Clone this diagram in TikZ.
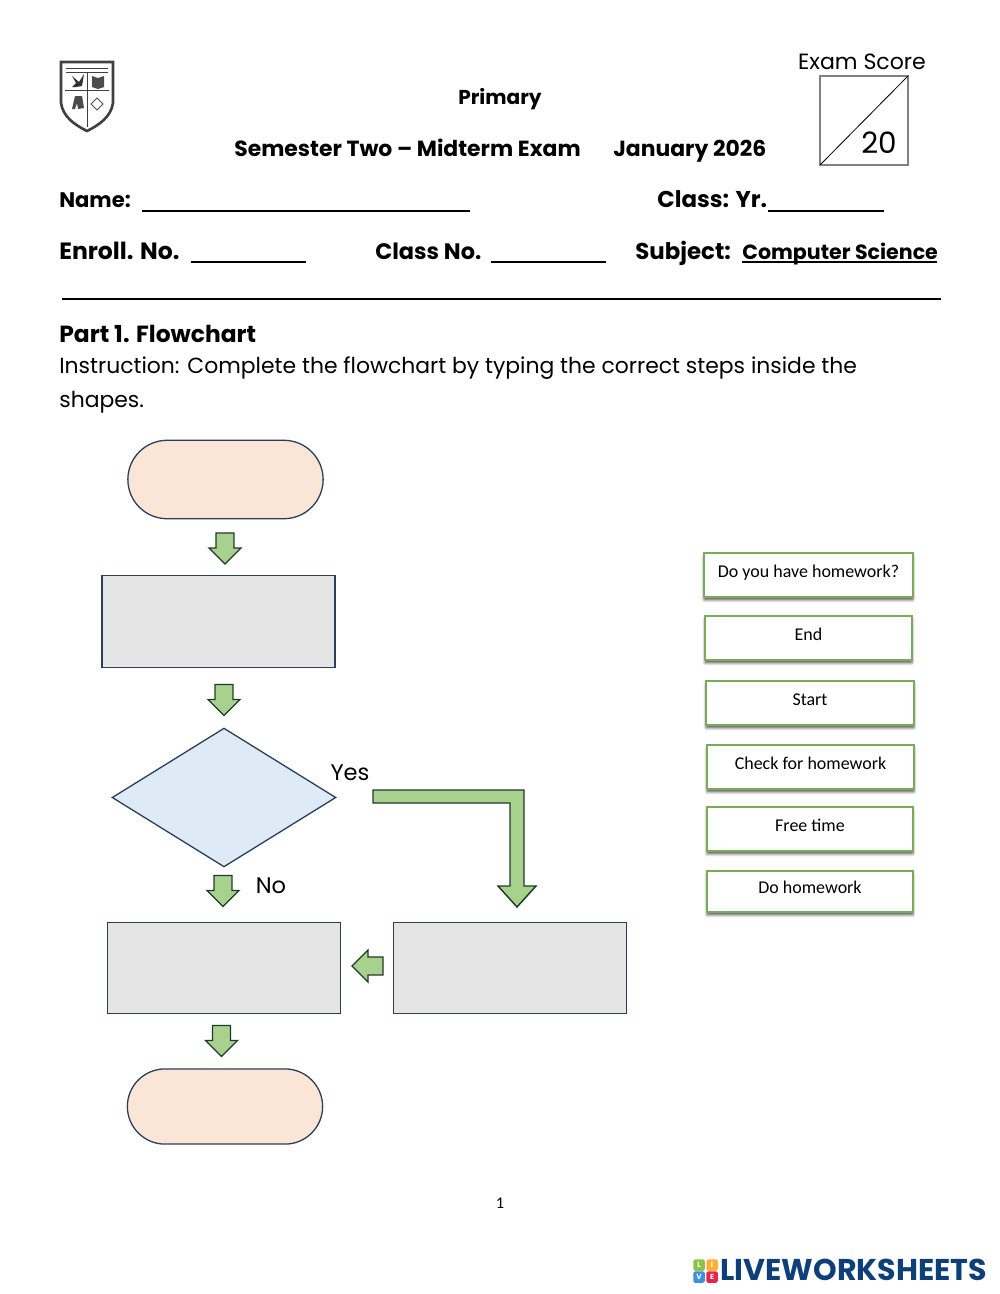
\documentclass[tikz,border=0pt]{standalone}
\usepackage{fontspec}
\setmainfont{Poppins}
\newfontfamily\boxfont{Carlito}
\usetikzlibrary{shapes.geometric,shapes.misc,shapes.arrows,shadows.blur}

\definecolor{shapeline}{HTML}{2B3F58}
\definecolor{arrowline}{HTML}{1F3A2A}
\definecolor{arrowfill}{HTML}{A9D18E}
\definecolor{optionline}{HTML}{7BAA58}
\definecolor{logoblue}{HTML}{0F3F78}
\definecolor{terminalfill}{HTML}{FBE5D6}
\definecolor{decisionfill}{HTML}{DEEBF7}

\tikzset{
  head/.style={font=\bfseries\fontsize{#1}{16}\selectfont, inner sep=0pt, anchor=base west},
  head/.default=13.4,
  plain/.style={font=\fontsize{#1}{16}\selectfont, inner sep=0pt, anchor=base},
  plain/.default=13.4,
  terminal/.style={rounded rectangle, draw=shapeline, fill=terminalfill, line width=0.8pt, minimum width=119.5pt, inner sep=0pt},
  process/.style={rectangle, draw=shapeline, fill=black!10, line width=0.8pt, minimum width=142.5pt, minimum height=56pt, inner sep=0pt},
  blockarrow/.style={single arrow, draw=arrowline, fill=arrowfill, line width=0.8pt, inner sep=5.1pt, outer sep=0pt, minimum height=19pt, single arrow head extend=4.3pt, single arrow head indent=0pt},
  optionbox/.style={rectangle, draw=optionline, fill=white, line width=0.9pt, inner sep=0pt, text height=3pt, text depth=0pt, blur shadow={shadow xshift=0pt, shadow yshift=-1.8pt, shadow blur radius=1.6pt, shadow opacity=65}, font=\boxfont\fontsize{11}{13}\selectfont}
}

\begin{document}
\begin{tikzpicture}[x=0.612pt,y=-0.612pt]

  \useasboundingbox (0,0) rectangle (1000,1294);

  % Shield
  \draw[black!75, line width=1.6pt, fill=white]
    (61,62) -- (113,62) -- (113,103) .. controls (111,117) and (99,125) .. (87,131)
    .. controls (75,125) and (63,117) .. (61,103) -- cycle;
  \draw[black!75, line width=0.5pt] (66,68) -- (108,68) (66,72) -- (108,72);
  \draw[black!75, line width=0.5pt] (87,72) -- (87,127) (65,90) -- (109,90);
  \fill[black!80] (72,76) -- (79,82) -- (84,74) -- (82,86) -- (76,87) -- (72,87) -- (76,83) -- cycle;
  \fill[black!70] (92,76) -- (98,78) -- (104,76) -- (104,87) -- (98,89) -- (92,87) -- cycle;
  \fill[black!70] (75,96) -- (82,96) -- (84,108) -- (78,109) -- (77,103) -- (75,109) -- (72,109) -- cycle;
  \draw[black!70, line width=0.5pt] (97,98) -- (103,104) -- (97,110) -- (91,104) -- cycle;

  % Score box
  \node[plain=13.5] (scoretitle) at (862,69) {Exam Score};
  \draw[black!50, line width=0.8pt] (820,76) rectangle (908,165);
  \draw[line width=0.5pt] (820,165) -- (908,76);
  \node[plain=18] (score) at (879,153) {20};

  % Heading
  \node[head=12.3, anchor=base] (level) at (500,104) {Primary};
  \node[head] (exam) at (234,156) {Semester Two – Midterm Exam};
  \node[head] (month) at (613,156) {January 2026};

  % Form fields
  \node[head=12.9] (name) at (59,207) {Name:};
  \node[head=14] (class) at (657,207) {Class: Yr.};
  \node[head=14.4] (enroll) at (59,259) {Enroll. No.};
  \node[head=13.7] (classno) at (375,259) {Class No.};
  \node[head=14] (subject) at (635,259) {Subject:};
  \node[head=12.6] (course) at (742,259) {Computer Science};
  \foreach \xa/\xb/\yy in {142/470/211,768/884/211,191/306/262,491/606/262,742/937/262} {
    \draw[line width=1pt] (\xa,\yy) -- (\xb,\yy);
  }
  \draw[line width=1.1pt] (62,299) -- (941,299);

  % Instruction
  \node[head=14.3] (part) at (59,342) {Part 1. Flowchart};
  \node[plain, anchor=base west] (instrA) at (59,373) {Instruction: Complete the flowchart by typing the correct steps inside the};
  \node[plain, anchor=base west] (instrB) at (59,407) {shapes.};

  % Flowchart shapes
  \node[terminal, minimum height=48pt] (start) at (225.5,479.5) {};
  \node[process] (input) at (218.5,621.5) {};
  \node[diamond, draw=shapeline, fill=decisionfill, line width=0.8pt, inner sep=0pt, minimum width=137pt, minimum height=85pt] (decide) at (224,797.5) {};
  \node[process] (work) at (224,968) {};
  \node[process] (free) at (510,968) {};
  \node[terminal, minimum height=46pt] (finish) at (225,1106.5) {};

  % Small arrows
  \node[blockarrow, shape border rotate=270] (arrowA) at (225,544) {};
  \node[blockarrow, shape border rotate=270] (arrowB) at (224,695.5) {};
  \node[blockarrow, shape border rotate=270] (arrowC) at (223,886.5) {};
  \node[blockarrow, shape border rotate=180] (arrowD) at (372,966) {};
  \node[blockarrow, shape border rotate=270] (arrowE) at (221.5,1036.5) {};

  % Bent arrow
  \draw[draw=arrowline, fill=arrowfill, line width=0.9pt]
    (373,790) -- (524,790) -- (524,886) -- (536,886) -- (517,907) -- (498,886)
    -- (510,886) -- (510,803) -- (373,803) -- cycle;

  \node[plain=13.8] (yes) at (350,780) {Yes};
  \node[plain=13.8] (no) at (271,893) {No};

  % Answer options
  \foreach \id/\xa/\xb/\ya/\yb/\lbl in {
    optA/704/913/553/597/{Do you have homework?},
    optB/705/912/616/660/{End},
    optC/706/914/681/725/{Start},
    optD/707/914/745/789/{Check for homework},
    optE/707/913/807/851/{Free time},
    optF/707/913/871/912/{Do homework}} {
    \pgfmathsetmacro{\boxw}{(\xb-\xa)*0.612}
    \pgfmathsetmacro{\boxh}{(\yb-\ya)*0.612}
    \node[optionbox, minimum width=\boxw pt, minimum height=\boxh pt] (\id) at ({(\xa+\xb)/2},{(\ya+\yb)/2}) {\lbl};
  }

  % Page number
  \node[inner sep=0pt, font=\boxfont\fontsize{10}{12}\selectfont] (page) at (500,1203) {1};

  % Logo
  \foreach \id/\xx/\yy/\col/\lt in {logoL/693/1259/8BC34A/L,logoI/706/1259/F9B233/I,logoV/693/1271/3F8FE0/V,logoE/706/1271/E2264D/E} {
    \definecolor{tile}{HTML}{\col}
    \node[fill=tile, rounded corners=1pt, minimum size=7pt, inner sep=0pt, text=white, anchor=north west, font=\bfseries\fontsize{4.5}{5}\selectfont] (\id) at (\xx,\yy) {\lt};
  }
  \node[anchor=west, inner sep=0pt, text=logoblue, font=\bfseries\fontsize{18.4}{20}\selectfont] (brand) at (720,1270) {LIVEWORKSHEETS};

\end{tikzpicture}
\end{document}
